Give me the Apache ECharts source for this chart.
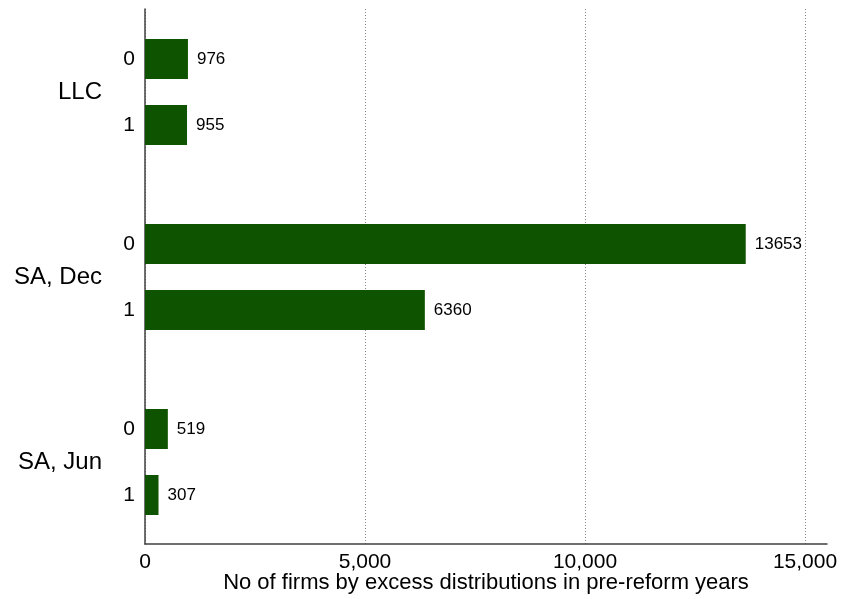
<!DOCTYPE html>
<html>
<head>
<meta charset="utf-8">
<script src="https://cdn.jsdelivr.net/npm/echarts@6/dist/echarts.min.js"></script>
<style>html,body{margin:0;padding:0;background:#fff}#c{width:843px;height:599px}</style>
</head>
<body>
<div id="c"></div>
<script>
var groups = ['LLC', 'SA, Dec', 'SA, Jun'];
var subLabels = ['0', '1'];
var llcValues = [976, 955];
var saDecValues = [13653, 6360];
var saJunValues = [519, 307];
var xTickMax = 15000;
var xFrameMax = 15500;
var xInterval = 5000;
var xTitle = 'No of firms by excess distributions in pre-reform years';

var groupValues = [llcValues, saDecValues, saJunValues];
var FONT = "'Liberation Sans', Arial, Helvetica, sans-serif";
var BAR = '#0e5300';
var AX = '#404040';

var groupTops = [26, 211, 396];
var grids = [
  {left: 145, width: 682, top: 9, height: 536},
  {left: 145, width: 660, top: 9, height: 536}
];
var xAxes = [
  {gridIndex: 0, type: 'value', min: 0, max: xFrameMax,
   axisLine: {show: true, lineStyle: {color: AX, width: 1.5}},
   axisTick: {show: false}, axisLabel: {show: false}, splitLine: {show: false},
   name: xTitle, nameLocation: 'middle', nameGap: 28,
   nameTextStyle: {fontFamily: FONT, fontSize: 22, color: '#000'}},
  {gridIndex: 1, type: 'value', min: 0, max: xTickMax, interval: xInterval,
   axisLine: {show: false}, axisTick: {show: false},
   axisLabel: {fontFamily: FONT, fontSize: 21, color: '#000', margin: 7,
     formatter: function (v) { return v.toLocaleString('en-US'); }},
   splitLine: {show: true, lineStyle: {type: [1, 2], color: '#888', width: 1}}}
];
var yAxes = [
  {gridIndex: 0, type: 'value', axisLine: {show: true, lineStyle: {color: AX, width: 1.5}},
   axisTick: {show: false}, axisLabel: {show: false}, splitLine: {show: false}},
  {gridIndex: 1, type: 'value', show: false}
];
var series = [];
groups.forEach(function (g, i) {
  var gi = i + 2;
  grids.push({left: 145, width: 660, top: groupTops[i], height: 132});
  xAxes.push({gridIndex: gi, type: 'value', min: 0, max: xTickMax, show: false});
  yAxes.push({gridIndex: gi, type: 'category', data: subLabels, inverse: true,
    axisLine: {show: false}, axisTick: {show: false},
    axisLabel: {fontFamily: FONT, fontSize: 21, color: '#000', margin: 10, padding: [2, 0, 0, 0]},
    name: g, nameLocation: 'middle', nameRotate: 0, nameGap: 43,
    nameTextStyle: {fontFamily: FONT, fontSize: 24, color: '#000', align: 'right', padding: [6, 0, 0, 0]}});
  series.push({type: 'bar', xAxisIndex: gi, yAxisIndex: gi, data: groupValues[i],
    barWidth: 40, itemStyle: {color: BAR},
    label: {show: true, position: 'right', distance: 9, fontFamily: FONT, fontSize: 17, color: '#000', padding: [3, 0, 0, 0]},
    animation: false});
});

var chart = echarts.init(document.getElementById('c'));
chart.setOption({
  animation: false,
  grid: grids, xAxis: xAxes, yAxis: yAxes, series: series
});
</script>
</body>
</html>
